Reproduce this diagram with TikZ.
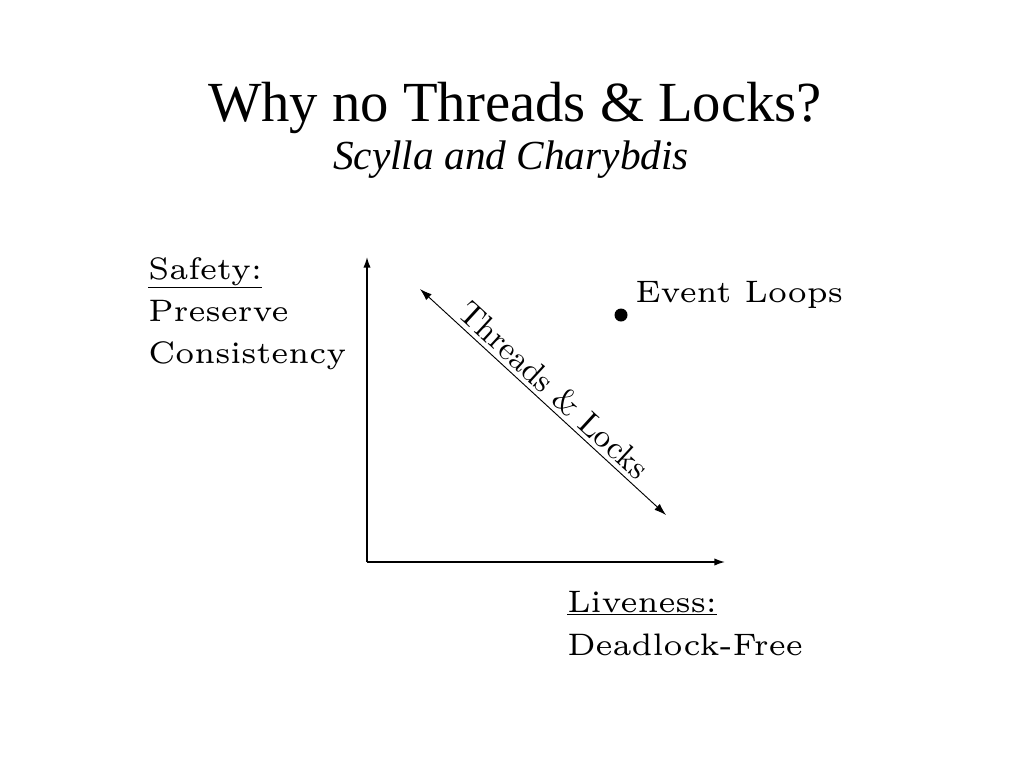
\documentclass[tikz,border=0pt]{standalone}
\usepackage{fontspec}
\setmainfont{Liberation Serif}
\newfontfamily\lmwide{lmroman6-regular}[Extension=.otf]
\newfontfamily\lmten{lmroman10-regular}[Extension=.otf]
\usetikzlibrary{arrows.meta}
\begin{document}
\begin{tikzpicture}[x=0.75pt,y=-0.75pt,
  wide/.style={font=\lmwide\fontsize{23.3pt}{27pt}\selectfont, inner sep=0pt, anchor=base west},
  axis/.style={line width=1.1pt, -{Latex[length=8pt,width=5.5pt]}},
  diag/.style={line width=0.7pt, {Latex[length=9pt,width=6pt]}-{Latex[length=9pt,width=6pt]}}]
\useasboundingbox (0,0) rectangle (1024,768);
\fill[white] (0,0) rectangle (1024,768);
\node[anchor=base, inner sep=0pt, font=\fontsize{42.5pt}{48pt}\selectfont] (title) at (515,121) {Why no Threads \& Locks?};
\node[anchor=base, inner sep=0pt, font=\itshape\fontsize{31pt}{36pt}\selectfont] (sub) at (511,169) {Scylla and Charybdis};
\node[wide] (safety) at (148,279) {\underline{Safety:}};
\node[wide] (preserve) at (148,321) {Preserve};
\node[wide] (consist) at (148,363) {Consistency};
\node[wide] (live) at (567,612) {\underline{Liveness:}};
\node[wide] (dead) at (567,655) {Deadlock-Free};
\coordinate (origin) at (367,562);
\coordinate (ytop) at (367,257);
\coordinate (xend) at (725,562);
\draw[axis] (origin) -- (ytop);
\draw[axis] (origin) -- (xend);
\coordinate (d1) at (420,289);
\coordinate (d2) at (666,515);
\draw[diag] (d1) -- node[sloped, above, inner sep=3pt, font=\lmten\fontsize{24.5pt}{27pt}\selectfont] (tl) {Threads \& Locks} (d2);
\fill (621,315) circle[radius=6.5] coordinate (dot);
\node[wide] (ev) at (635,302) {Event Loops};
\end{tikzpicture}
\end{document}
